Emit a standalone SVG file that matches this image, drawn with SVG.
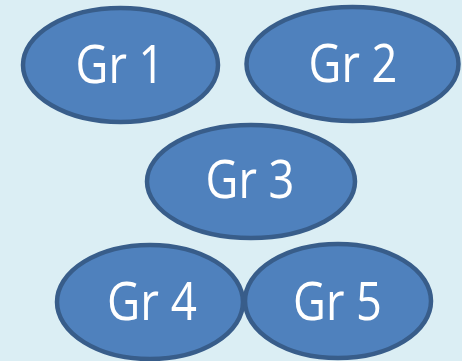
<svg xmlns="http://www.w3.org/2000/svg" width="462" height="361" viewBox="0 0 462 361">
  <style>
    .node ellipse { fill: #4f81bd; stroke: #385d8a; stroke-width: 4.5; }
    .node text { fill: #ffffff; font-family: "Open Sans", "Liberation Sans", sans-serif; font-size: 53px; text-anchor: middle; }
  </style>
  <rect x="0" y="0" width="462" height="361" fill="#dbeef4"/>
  <g id="connectors"></g>
  <g id="gr1" class="node">
    <ellipse cx="120.5" cy="65" rx="97.5" ry="57"/>
    <text x="120" y="83" textLength="89" lengthAdjust="spacingAndGlyphs">Gr 1</text>
  </g>
  <g id="gr2" class="node">
    <ellipse cx="352.5" cy="64" rx="106" ry="57"/>
    <text x="353" y="82" textLength="89" lengthAdjust="spacingAndGlyphs">Gr 2</text>
  </g>
  <g id="gr3" class="node">
    <ellipse cx="251" cy="181.5" rx="104" ry="56.5"/>
    <text x="250" y="198" textLength="89" lengthAdjust="spacingAndGlyphs">Gr 3</text>
  </g>
  <g id="gr4" class="node">
    <ellipse cx="150" cy="302" rx="93" ry="57"/>
    <text x="152" y="320" textLength="90" lengthAdjust="spacingAndGlyphs">Gr 4</text>
  </g>
  <g id="gr5" class="node">
    <ellipse cx="338" cy="301" rx="93" ry="57"/>
    <text x="337.5" y="320" textLength="89" lengthAdjust="spacingAndGlyphs">Gr 5</text>
  </g>
</svg>
